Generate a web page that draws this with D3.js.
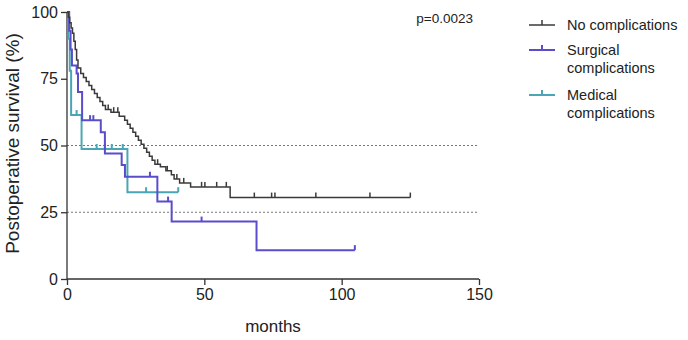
<!DOCTYPE html>
<html>
<head>
<meta charset="utf-8">
<script src="https://cdn.jsdelivr.net/npm/d3@7"></script>
<style>
  body { margin: 0; background: #fff; }
  svg text { font-family: "Liberation Sans", Arial, sans-serif; fill: #222; }
</style>
</head>
<body>
<div id="chart"></div>
<script>
// Kaplan-Meier steps: [month, survival %]
const noCompSteps = [[0,100],[0.5,98],[1,96],[1.5,94],[2,92],[2.5,89],[3,86],[3.5,82],[4,79],[5,77],[6,75.5],[7,74],[8,72.5],[9,71],[10,69.5],[11,68],[12,66.5],[13,65],[14,63.5],[16,62.5],[19,61],[21,59.5],[22,58],[23,56.5],[24,55],[25,53.5],[26,52],[27,50.5],[28,49],[29,47.5],[30,46],[31,44.5],[32,43],[34,42],[36,40.5],[38,39],[39,37.5],[41,36],[45,34.5],[59.4,30.5]];
const noCompEnd = 125;
const noCompCensor = [15, 17, 18.5, 33, 36.5, 40, 42.5, 49, 50.2, 54.5, 58, 68.2, 74.5, 75.7, 90.6, 110.3, 125];

const surgSteps = [[0,100],[0.8,93],[1.3,86],[1.8,80],[3.5,77],[4,70],[5.5,59.5],[12.3,55],[13.8,47],[19.9,42.7],[21.1,38.3],[32.9,29],[38.1,21.5],[69,10.8]];
const surgEnd = 104.8;
const surgCensor = [8.4, 9.6, 30.2, 36.8, 49, 104.8];

const medSteps = [[0,100],[0.5,90],[1,78],[1.5,61.4],[5.3,48.7],[22,32.5]];
const medEnd = 40.5;
const medCensor = [3.5, 10.8, 13.8, 16.3, 20.3, 28.8, 40.5];

const groups = ["No complications", "Surgical complications", "Medical complications"];
const colors = ["#3a3a3a", "#5a4dcc", "#4aa5b5"];
const xTicks = [0, 50, 100, 150];
const yTicks = [0, 25, 50, 75, 100];
const refLines = [25, 50];

const W = 688, H = 340;
const m = { left: 67, right: 209, top: 12, bottom: 61 };

const svg = d3.select("#chart").append("svg").attr("width", W).attr("height", H);

const x = d3.scaleLinear().domain([0, 150]).range([m.left, W - m.right]);
const y = d3.scaleLinear().domain([0, 100]).range([H - m.bottom, m.top]);

// dotted reference lines
svg.selectAll(".ref").data(refLines).enter().append("line")
  .attr("x1", x(0)).attr("x2", x(150))
  .attr("y1", d => y(d)).attr("y2", d => y(d))
  .attr("stroke", "#777").attr("stroke-width", 1)
  .attr("stroke-dasharray", "2,2");

// axes
const xAxis = svg.append("g").attr("transform", `translate(0,${y(0)})`)
  .call(d3.axisBottom(x).tickValues(xTicks).tickSize(6).tickPadding(4));
const yAxis = svg.append("g").attr("transform", `translate(${x(0)},0)`)
  .call(d3.axisLeft(y).tickValues(yTicks).tickSize(6).tickPadding(3));
[xAxis, yAxis].forEach(a => {
  a.selectAll("path, line").attr("stroke", "#333").attr("stroke-width", 1.3);
  a.selectAll("text").style("font-size", "16px").attr("fill", "#222");
  a.select(".domain").attr("d", a === xAxis ? `M${x(0)},0H${x(150)}` : `M0,${y(0)}V${y(100)}`);
});

svg.append("text").attr("x", x(75)).attr("y", 332).attr("text-anchor", "middle")
  .style("font-size", "17px").text("months");
svg.append("text").attr("transform", `translate(19,${y(50) - 2}) rotate(-90)`)
  .attr("text-anchor", "middle").style("font-size", "19px").text("Postoperative survival (%)");

svg.append("text").attr("x", 473).attr("y", 23).attr("text-anchor", "end")
  .style("font-size", "13.5px").text("p=0.0023");

// survival curves
const series = [
  { steps: noCompSteps, end: noCompEnd, censor: noCompCensor, w: 1.5 },
  { steps: surgSteps, end: surgEnd, censor: surgCensor, w: 2 },
  { steps: medSteps, end: medEnd, censor: medCensor, w: 2 }
];

function survAt(steps, t) {
  let s = steps[0][1];
  steps.forEach(d => { if (d[0] <= t) s = d[1]; });
  return s;
}

const line = d3.line().x(d => x(d[0])).y(d => y(d[1])).curve(d3.curveStepAfter);

// draw in reverse order so the black curve stays on top
series.slice().reverse().forEach((s, ri) => {
  const i = series.length - 1 - ri;
  const pts = s.steps.concat([[s.end, s.steps[s.steps.length - 1][1]]]);
  svg.append("path").datum(pts).attr("d", line)
    .attr("fill", "none").attr("stroke", colors[i]).attr("stroke-width", s.w);
  svg.selectAll(null).data(s.censor).enter().append("line")
    .attr("x1", d => x(d)).attr("x2", d => x(d))
    .attr("y1", d => y(survAt(s.steps, d)) - 5).attr("y2", d => y(survAt(s.steps, d)))
    .attr("stroke", colors[i]).attr("stroke-width", s.w);
});

// legend
const legendRows = [
  { lines: ["No complications"], y: 25 },
  { lines: ["Surgical", "complications"], y: 50 },
  { lines: ["Medical", "complications"], y: 95 }
];
legendRows.forEach((r, i) => {
  const g = svg.append("g");
  g.append("line").attr("x1", 529).attr("x2", 555).attr("y1", r.y).attr("y2", r.y)
    .attr("stroke", colors[i]).attr("stroke-width", i === 0 ? 1.5 : 2);
  g.append("line").attr("x1", 542).attr("x2", 542).attr("y1", r.y - 5).attr("y2", r.y)
    .attr("stroke", colors[i]).attr("stroke-width", i === 0 ? 1.5 : 2);
  r.lines.forEach((t, j) => {
    g.append("text").attr("x", 567).attr("y", r.y + 5 + j * 18)
      .style("font-size", "14.5px").text(t);
  });
});
</script>
</body>
</html>
